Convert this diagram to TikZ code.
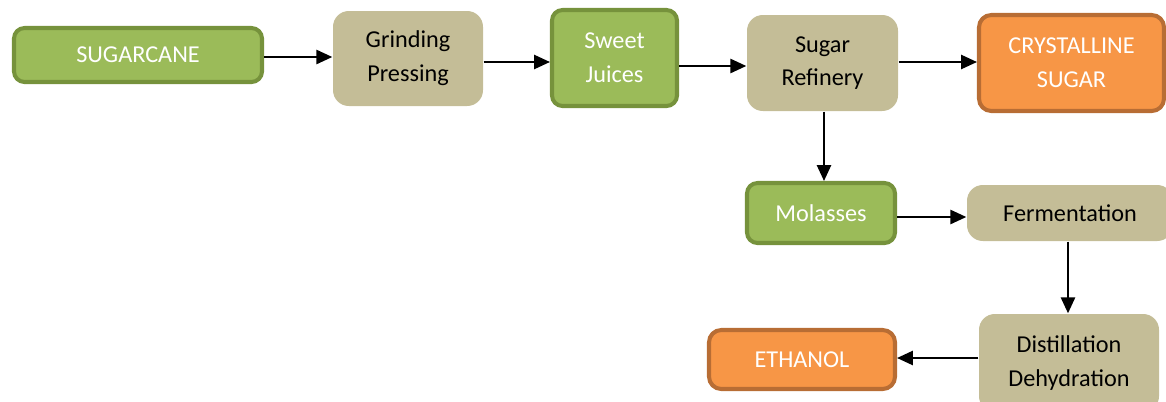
\documentclass[tikz,border=0pt]{standalone}
\usepackage{fontspec}
\setmainfont{Carlito}
\usetikzlibrary{arrows.meta}
\definecolor{canegreen}{HTML}{9BBB59}
\definecolor{canegreenline}{HTML}{76923C}
\definecolor{stepten}{HTML}{C4BD97}
\definecolor{prodorange}{HTML}{F79646}
\definecolor{prodorangeline}{HTML}{B86D34}
\tikzset{
  grb/.style={draw=canegreenline, fill=canegreen, line width=1.15pt, rounded corners=3pt,
    align=center, inner sep=0pt, text=white},
  tnb/.style={fill=stepten, rounded corners=4.5pt, align=center, inner sep=0pt, text=black},
  orb/.style={draw=prodorangeline, fill=prodorange, line width=1.15pt, rounded corners=3.5pt,
    align=center, inner sep=0pt, text=white},
  flow/.style={-{Triangle[length=4.5pt, width=4pt]}, line width=0.6pt, draw=black},
}

\begin{document}
\begin{tikzpicture}[font=\fontsize{6.9}{9.6}\selectfont]
    \useasboundingbox (0,0) rectangle (11.66,-4.01);
    % top row
    \node[grb, minimum width=2.48cm, minimum height=0.54cm] (sc) at (1.38,-0.55) {SUGARCANE};
    \node[tnb, minimum width=1.50cm, minimum height=0.95cm] (grind) at (4.08,-0.585) {Grinding\\Pressing};
    \node[grb, minimum width=1.25cm, minimum height=0.96cm] (juice) at (6.145,-0.58) {Sweet\\Juices};
    \node[tnb, minimum width=1.51cm, minimum height=0.96cm] (refin) at (8.225,-0.63) {Sugar\\Refinery};
    \node[orb, minimum width=1.85cm, minimum height=0.96cm] (cryst) at (10.715,-0.63) {CRYSTALLINE\\SUGAR};
    % molasses branch
    \node[grb, minimum width=1.48cm, minimum height=0.60cm] (molas) at (8.21,-2.13) {Molasses};
    \node[tnb, minimum width=2.06cm, minimum height=0.56cm] (ferm) at (10.70,-2.13) {Fermentation};
    \node[tnb, minimum width=1.80cm, minimum height=0.98cm] (dist) at (10.69,-3.63) {Distillation\\Dehydration};
    \node[orb, minimum width=1.86cm, minimum height=0.59cm] (ethan) at (8.02,-3.595) {ETHANOL};
    % flows
    \draw[flow] (sc.east |- 0,-0.57) -- (grind.west |- 0,-0.57);
    \draw[flow] (grind.east |- 0,-0.62) -- (juice.west |- 0,-0.62);
    \draw[flow] (juice.east |- 0,-0.66) -- (refin.west |- 0,-0.66);
    \draw[flow] (refin.east |- 0,-0.62) -- (cryst.west |- 0,-0.62);
    \draw[flow] (refin.south -| 8.24,0) -- (molas.north -| 8.24,0);
    \draw[flow] (molas.east |- 0,-2.17) -- (ferm.west |- 0,-2.17);
    \draw[flow] (ferm.south -| 10.68,0) -- (dist.north -| 10.68,0);
    \draw[flow] (dist.west |- 0,-3.58) -- (ethan.east |- 0,-3.58);
\end{tikzpicture}
\end{document}
